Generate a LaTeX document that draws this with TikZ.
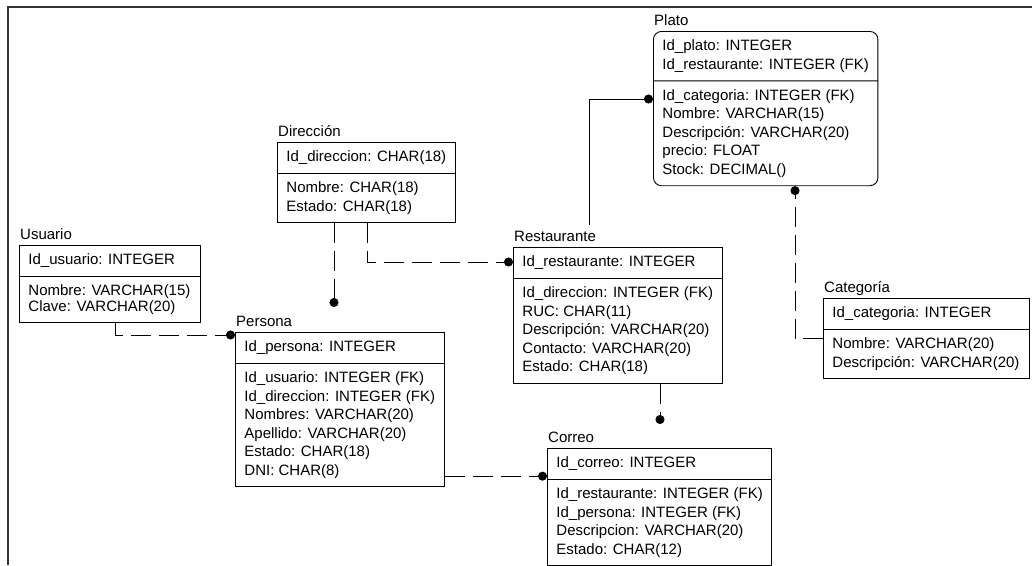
\documentclass[tikz,border=0pt]{standalone}
\usepackage{fontspec}
\setmainfont{Liberation Sans}
\usetikzlibrary{shapes.multipart,arrows.meta}

\tikzstyle{tabledecorate}=[rectangle split, rectangle split parts=2, rectangle split part align=left, draw, line width=0.9pt, align=left, anchor=north west, inner xsep=9pt, inner ysep=8pt, font=\fontsize{15}{18.5}\selectfont]
\tikzstyle{titledecorate}=[anchor=base west, inner sep=0pt, xshift=1pt, yshift=6pt, font=\fontsize{15}{18.5}\selectfont]
\tikzstyle{plaintable}=[]
\tikzstyle{roundtable}=[rounded corners=8pt]
\tikzstyle{tighttable}=[font=\fontsize{15}{15.5}\selectfont]
\tikzstyle{linkdecorate}=[draw, line width=0.9pt, -{Circle[length=9pt]}]
\tikzstyle{dashed link}=[linkdecorate, dash pattern=on 20pt off 8pt]
\tikzstyle{borderline}=[draw, line width=2pt, black!80]

\begin{document}
\begin{tikzpicture}[x=1pt,y=-1pt]
    \useasboundingbox (0,0) rectangle (1032,565);
    \path[borderline] (8,565) -- (8,7) -- (1032,7);
    %% tables
    \foreach \nodename/\title/\x/\y/\w/\kind/\keys/\attrs in {
      plato/Plato/653/31/224/roundtable/{Id\_plato: INTEGER\\Id\_restaurante: INTEGER (FK)}/{Id\_categoria: INTEGER (FK)\\Nombre: VARCHAR(15)\\Descripción: VARCHAR(20)\\precio: FLOAT\\Stock: DECIMAL()},
      direccion/Dirección/277/142/178/plaintable/{Id\_direccion: CHAR(18)}/{Nombre: CHAR(18)\\Estado: CHAR(18)},
      usuario/Usuario/19/245/181/tighttable/{Id\_usuario: INTEGER}/{Nombre: VARCHAR(15)\\Clave: VARCHAR(20)},
      persona/Persona/235/332/208/plaintable/{Id\_persona: INTEGER}/{Id\_usuario: INTEGER (FK)\\Id\_direccion: INTEGER (FK)\\Nombres: VARCHAR(20)\\Apellido: VARCHAR(20)\\Estado: CHAR(18)\\DNI: CHAR(8)},
      restaurante/Restaurante/513/247/209/plaintable/{Id\_restaurante: INTEGER}/{Id\_direccion: INTEGER (FK)\\RUC: CHAR(11)\\Descripción: VARCHAR(20)\\Contacto: VARCHAR(20)\\Estado: CHAR(18)},
      categoria/Categoría/823/298/206/plaintable/{Id\_categoria: INTEGER}/{Nombre: VARCHAR(20)\\Descripción: VARCHAR(20)},
      correo/Correo/547/448/213/plaintable/{Id\_correo: INTEGER}/{Id\_restaurante: INTEGER (FK)\\Id\_persona: INTEGER (FK)\\Descripcion: VARCHAR(20)\\Estado: CHAR(12)}}
    {
      \node[tabledecorate, \kind, minimum width=\w pt, label={[titledecorate]north west:\title}] (\nodename) at (\x,\y) {\keys\nodepart{two}\attrs};
    }
    %links
    \draw[linkdecorate] ([shift={(76,-22)}]restaurante.north west) |- ([shift={(0,68)}]plato.north west);
    \draw[dashed link] (categoria.west) -| ([shift={(142,0)}]plato.south west);
    \draw[dashed link] ([shift={(57,0)}]direccion.south west) -- ([shift={(99,-25)}]persona.north west);
    \draw[dashed link] ([shift={(90,0)}]direccion.south west) |- ([shift={(0,15)}]restaurante.north west);
    \draw[dashed link] ([shift={(96,0)}]usuario.south west) |- ([shift={(0,3)}]persona.north west);
    \coordinate (dni) at ([shift={(0,-11)}]persona.south east);
    \draw[dashed link] (dni) -- (dni -| correo.west);
    \draw[dashed link] ([shift={(147,0)}]restaurante.south west) -- ([shift={(113,-24)}]correo.north west);
\end{tikzpicture}
\end{document}
